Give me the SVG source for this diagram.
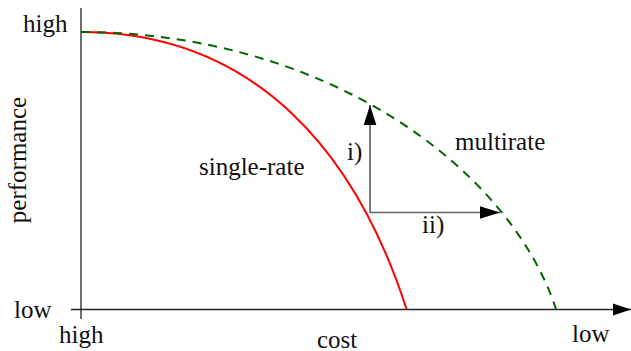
<svg xmlns="http://www.w3.org/2000/svg" width="631" height="351" viewBox="0 0 631 351">
<style>
.axis{stroke:#222;stroke-width:1.3;fill:none}
.single{stroke:#ff0000;stroke-width:2;fill:none}
.multi{stroke:#006600;stroke-width:2;fill:none;stroke-dasharray:9,7}
.arr{stroke:#333;stroke-width:1.3;fill:none}
</style>
<defs>
<marker id="ah" markerUnits="userSpaceOnUse" markerWidth="20" markerHeight="14" refX="20" refY="7" orient="auto">
<polygon points="0,0.7 20,7 0,13.3" fill="#000"/>
</marker>
<marker id="axh" markerUnits="userSpaceOnUse" markerWidth="18" markerHeight="14" refX="18" refY="7" orient="auto">
<polygon points="0,1 18,7 0,13" fill="#000"/>
</marker>
</defs>
<g id="axes">
<line class="axis" x1="81" y1="8" x2="81" y2="319"/>
<line class="axis" x1="71" y1="309.5" x2="631" y2="309.5" marker-end="url(#axh)"/>
</g>
<g id="curves">
<path id="single-rate-curve" class="single" d="M81,32 C260,32 358,159 406.5,309"/>
<path id="multirate-curve" class="multi" d="M81,32 C321,32 508,164 556,309"/>
</g>
<g id="connectors">
<line id="arrow-i" class="arr" x1="370" y1="212.5" x2="370" y2="105" marker-end="url(#ah)"/>
<line id="arrow-ii" class="arr" style="stroke:#666" x1="370" y1="212.5" x2="500" y2="212.5" marker-end="url(#ah)"/>
</g>
<g id="labels" font-family="Liberation Serif, DejaVu Serif, serif" font-size="25" fill="#111">
<text x="23" y="32">high</text>
<text x="14" y="318">low</text>
<text x="59" y="343">high</text>
<text x="572" y="342">low</text>
<text x="317" y="348">cost</text>
<text transform="translate(26,160) rotate(-90)" text-anchor="middle">performance</text>
<text x="199" y="175">single-rate</text>
<text x="455" y="150">multirate</text>
<text x="347" y="160">i)</text>
<text x="422" y="233">ii)</text>
</g>
</svg>
